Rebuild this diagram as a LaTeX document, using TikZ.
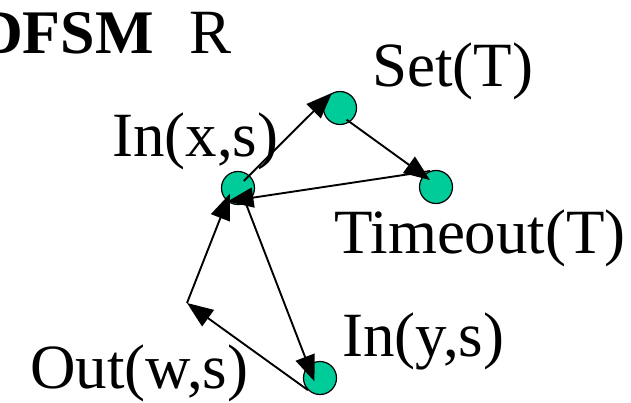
\documentclass[tikz,border=0pt]{standalone}
\usepackage{fontspec}
\setmainfont{Liberation Serif}
\usetikzlibrary{arrows.meta}
\definecolor{nodegreen}{RGB}{0,204,153}
\tikzset{arrtip/.tip={Triangle[length=26pt,width=20pt]}}
\begin{document}
\begin{tikzpicture}[x=1pt,y=-1pt,
  state/.style={circle,draw=black,line width=1.2pt,fill=nodegreen,minimum size=33pt,inner sep=0pt},
  lbl/.style={anchor=base west,inner sep=0pt,font=\fontsize{63}{72}\selectfont},
  arr/.style={line width=1.9pt,-arrtip}]
\useasboundingbox (0,0) rectangle (631,402);
\clip (0,0) rectangle (631,402);
\fill[white] (0,0) rectangle (631,402);
% titles
\node[lbl,font=\fontsize{62}{72}\selectfont\bfseries] (title) at (-22,53) {DFSM};
\node[lbl] (r) at (189,53) {R};
% states
\node[state] (In) at (238,188) {};
\node[state] (Set) at (340,108) {};
\node[state] (Timeout) at (436,187) {};
\node[state] (Iny) at (320,378) {};
\coordinate (corner) at (187,303);
% labels
\node[lbl] (lset) at (372,86) {Set(T)};
\node[lbl] (lin) at (112,156) {In(x,s)};
\node[lbl] (lto) at (334,253) {Timeout(T)};
\node[lbl] (liny) at (342,356) {In(y,s)};
\node[lbl] (lout) at (30,388) {Out(w,s)};
% connectors
\draw[arr, shorten <=-8pt] (In.48) -- (Set.118);
\draw[arr, shorten <=-4pt, shorten >=-8pt] (Set.-55) -- (Timeout.137);
\draw[arr] (Timeout.111) -- (In.232);
\draw[arr, shorten <=-3.5pt, shorten >=-17pt] (In.-63) -- (Iny.133);
\draw[arr] (Iny.225) -- (corner);
\draw[arr, shorten >=-8pt] (corner) -- (In.230);
\end{tikzpicture}
\end{document}
